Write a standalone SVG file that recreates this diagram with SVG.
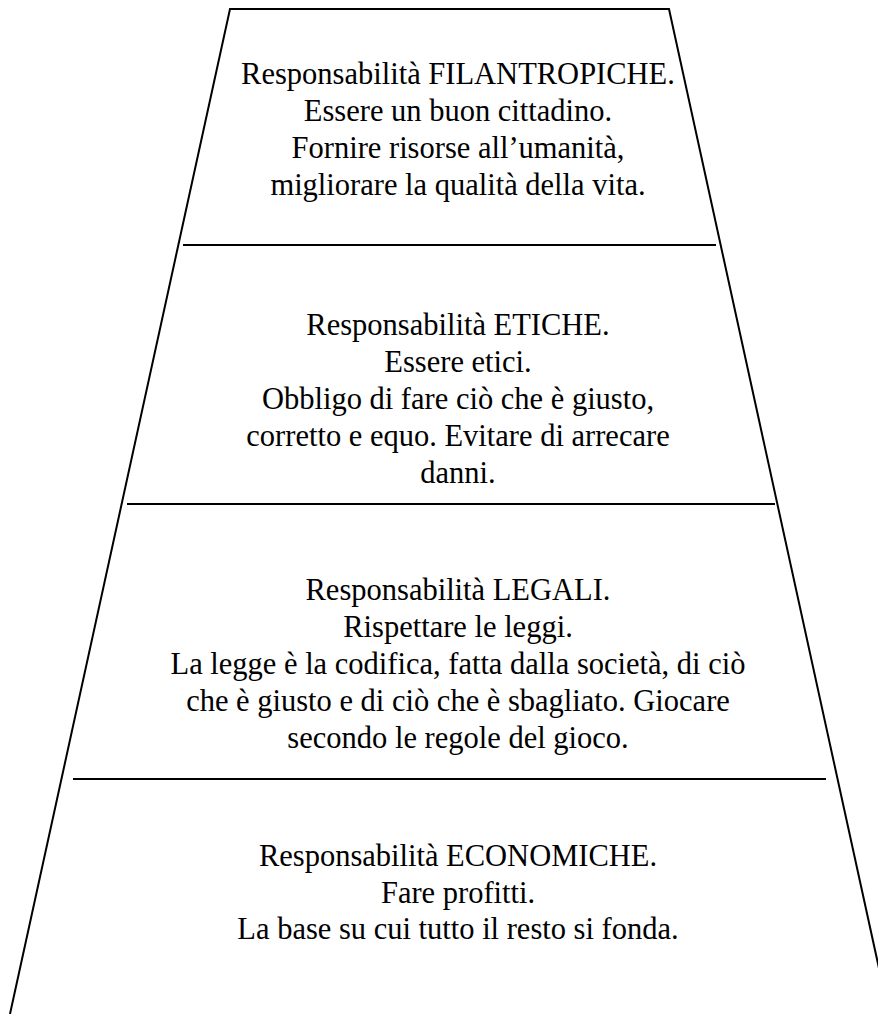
<svg xmlns="http://www.w3.org/2000/svg" width="878" height="1014" viewBox="0 0 878 1014">
<style>
.t{font-family:"Liberation Serif","Times New Roman",serif;font-size:30.5px;fill:#000;text-anchor:middle}
.l{stroke:#000;stroke-width:2;fill:none}
</style>
<rect width="878" height="1014" fill="#fff"/>
<g id="connectors">
<path class="l" d="M10,1014 L230,9 L669,9 L889,1014"/>
<line class="l" x1="183" y1="245" x2="716" y2="245"/>
<line class="l" x1="127" y1="504" x2="775" y2="504"/>
<line class="l" x1="73" y1="779" x2="826" y2="779"/>
</g>
<g id="filantropiche">
<text class="t" x="458" y="84">Responsabilità FILANTROPICHE.</text>
<text class="t" x="458" y="121">Essere un buon cittadino.</text>
<text class="t" x="458" y="158">Fornire risorse all’umanità,</text>
<text class="t" x="458" y="195">migliorare la qualità della vita.</text>
</g>
<g id="etiche">
<text class="t" x="458" y="335">Responsabilità ETICHE.</text>
<text class="t" x="458" y="372">Essere etici.</text>
<text class="t" x="458" y="409">Obbligo di fare ciò che è giusto,</text>
<text class="t" x="458" y="446">corretto e equo. Evitare di arrecare</text>
<text class="t" x="458" y="483">danni.</text>
</g>
<g id="legali">
<text class="t" x="458" y="600">Responsabilità LEGALI.</text>
<text class="t" x="458" y="637">Rispettare le leggi.</text>
<text class="t" x="458" y="674">La legge è la codifica, fatta dalla società, di ciò</text>
<text class="t" x="458" y="711">che è giusto e di ciò che è sbagliato. Giocare</text>
<text class="t" x="458" y="748">secondo le regole del gioco.</text>
</g>
<g id="economiche">
<text class="t" x="458" y="866">Responsabilità ECONOMICHE.</text>
<text class="t" x="458" y="903">Fare profitti.</text>
<text class="t" x="458" y="939">La base su cui tutto il resto si fonda.</text>
</g>
</svg>
